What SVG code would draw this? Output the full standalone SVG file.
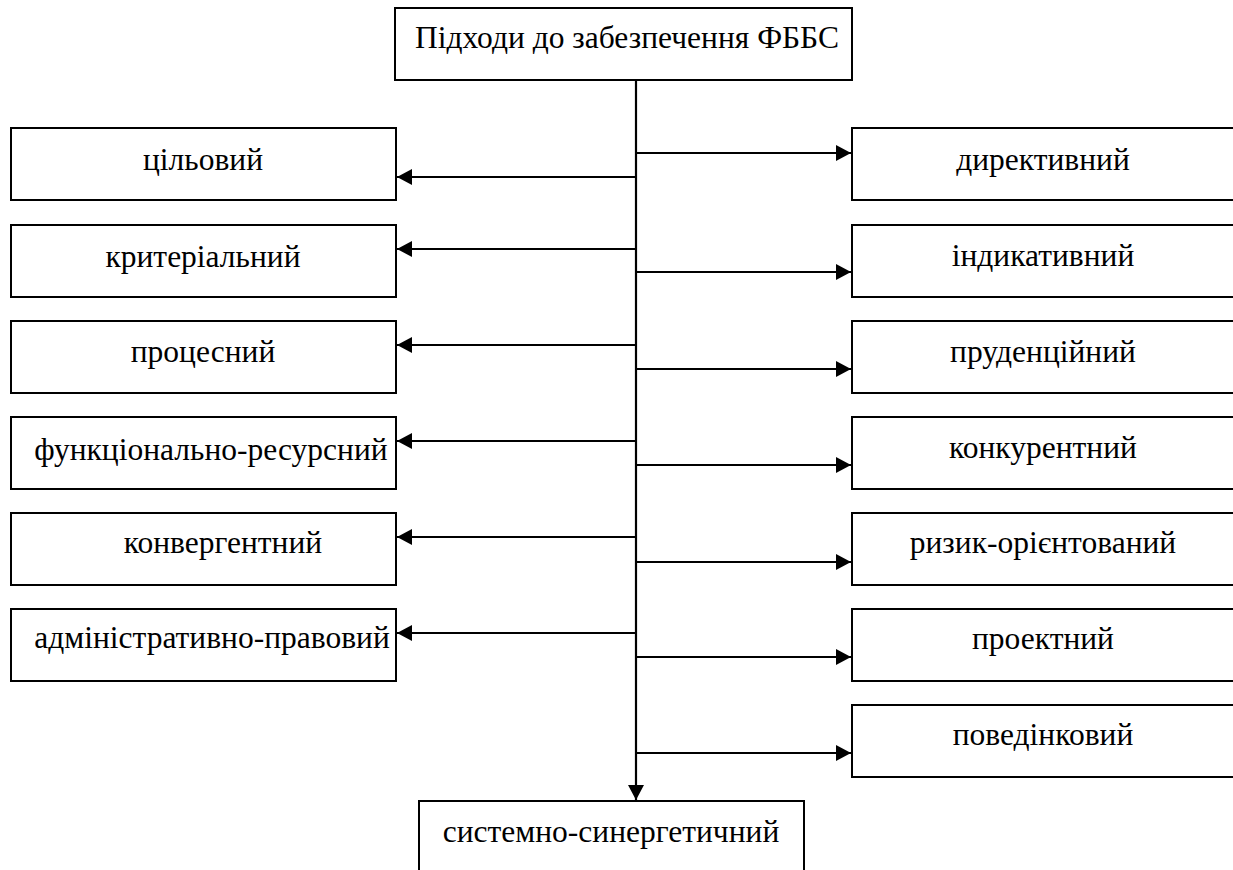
<svg xmlns="http://www.w3.org/2000/svg" width="1233" height="870" viewBox="0 0 1233 870">
<style>
.box{fill:#fff;stroke:#000;stroke-width:2}
.t{font-family:"Liberation Serif","Times New Roman",serif;font-size:31.5px;fill:#000}
.c{text-anchor:middle}
.ln{stroke:#000;stroke-width:2.2;fill:none}
</style>
<defs>
<marker id="ah" markerUnits="userSpaceOnUse" markerWidth="16" markerHeight="16" refX="15" refY="8" orient="auto">
<path d="M0,0 L15,8 L0,16 z" fill="#000"/>
</marker>
</defs>
<rect width="1233" height="870" fill="#fff"/>
<g id="connectors">
<line class="ln" x1="636" y1="80" x2="636" y2="800" marker-end="url(#ah)"/>
<line class="ln" x1="636" y1="177" x2="397" y2="177" marker-end="url(#ah)"/>
<line class="ln" x1="636" y1="249" x2="397" y2="249" marker-end="url(#ah)"/>
<line class="ln" x1="636" y1="345" x2="397" y2="345" marker-end="url(#ah)"/>
<line class="ln" x1="636" y1="441" x2="397" y2="441" marker-end="url(#ah)"/>
<line class="ln" x1="636" y1="537" x2="397" y2="537" marker-end="url(#ah)"/>
<line class="ln" x1="636" y1="633" x2="397" y2="633" marker-end="url(#ah)"/>
<line class="ln" x1="636" y1="153" x2="851" y2="153" marker-end="url(#ah)"/>
<line class="ln" x1="636" y1="272" x2="851" y2="272" marker-end="url(#ah)"/>
<line class="ln" x1="636" y1="369" x2="851" y2="369" marker-end="url(#ah)"/>
<line class="ln" x1="636" y1="465" x2="851" y2="465" marker-end="url(#ah)"/>
<line class="ln" x1="636" y1="562" x2="851" y2="562" marker-end="url(#ah)"/>
<line class="ln" x1="636" y1="657" x2="851" y2="657" marker-end="url(#ah)"/>
<line class="ln" x1="636" y1="753" x2="851" y2="753" marker-end="url(#ah)"/>
</g>
<g id="n-top"><rect class="box" x="395" y="8" width="457" height="72"/><text class="t" x="415" y="48">Підходи до забезпечення ФББС</text></g>
<g id="n-l1"><rect class="box" x="11" y="128" width="385" height="72"/><text class="t c" x="203" y="170">цільовий</text></g>
<g id="n-l2"><rect class="box" x="11" y="225" width="385" height="72"/><text class="t c" x="203" y="267">критеріальний</text></g>
<g id="n-l3"><rect class="box" x="11" y="321" width="385" height="72"/><text class="t c" x="203" y="362">процесний</text></g>
<g id="n-l4"><rect class="box" x="11" y="417" width="385" height="72"/><text class="t c" x="211" y="460">функціонально-ресурсний</text></g>
<g id="n-l5"><rect class="box" x="11" y="513" width="385" height="72"/><text class="t c" x="223" y="553">конвергентний</text></g>
<g id="n-l6"><rect class="box" x="11" y="609" width="385" height="72"/><text class="t c" x="212" y="648">адміністративно-правовий</text></g>
<g id="n-r1"><rect class="box" x="852" y="128" width="384" height="72"/><text class="t c" x="1043" y="170">директивний</text></g>
<g id="n-r2"><rect class="box" x="852" y="225" width="384" height="72"/><text class="t c" x="1043" y="266">індикативний</text></g>
<g id="n-r3"><rect class="box" x="852" y="321" width="384" height="72"/><text class="t c" x="1043" y="362">пруденційний</text></g>
<g id="n-r4"><rect class="box" x="852" y="417" width="384" height="72"/><text class="t c" x="1043" y="458">конкурентний</text></g>
<g id="n-r5"><rect class="box" x="852" y="513" width="384" height="72"/><text class="t c" x="1043" y="553">ризик-орієнтований</text></g>
<g id="n-r6"><rect class="box" x="852" y="609" width="384" height="72"/><text class="t c" x="1043" y="649">проектний</text></g>
<g id="n-r7"><rect class="box" x="852" y="705" width="384" height="72"/><text class="t c" x="1043" y="745">поведінковий</text></g>
<g id="n-bottom"><rect class="box" x="419" y="801" width="385" height="80"/><text class="t c" x="611" y="842">системно-синергетичний</text></g>
</svg>
